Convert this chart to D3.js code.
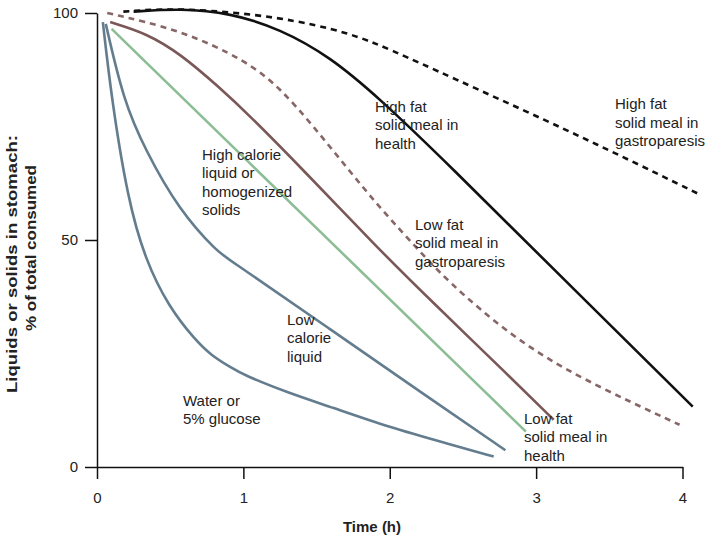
<!DOCTYPE html>
<html>
<head>
<meta charset="utf-8">
<script src="https://cdn.jsdelivr.net/npm/d3@7"></script>
<style>
  body { margin: 0; background: #fff; }
  svg { display: block; font-family: "Liberation Sans", Arial, Helvetica, sans-serif; }
</style>
</head>
<body>
<svg width="710" height="536"></svg>
<script>
// emptying curves, [time (h), % remaining]
const water = [[0.04, 98], [0.1, 81], [0.21, 59], [0.33, 45.6], [0.49, 35.3], [0.67, 28], [0.78, 24.6],
  [0.91, 22], [1.0, 20.3], [1.3, 16.4], [1.6, 13.2], [2.0, 8.7], [2.4, 5.1], [2.71, 2.3]];
const lowCalorie = [[0.06, 97.6], [0.18, 80.8], [0.33, 69.8], [0.56, 56.6], [0.83, 47.1],
  [0.91, 45.6], [1.6, 30.2], [2.27, 15.2], [2.79, 3.7]];
const highCalorie = [[0.1, 96.5], [1.5, 52.6], [2.93, 7.8]];
const lowFatHealth = [[0.09, 98], [0.34, 95.5], [0.57, 91], [0.84, 83.5], [1.03, 77.8], [1.41, 65.4],
  [1.93, 47.8], [2.27, 37], [2.82, 19.9], [3.12, 10.4]];
const lowFatGastro = [[0.07, 100], [0.57, 96.3], [1.02, 89.5], [1.25, 83.5], [1.48, 75], [1.71, 65.8],
  [1.93, 57.2], [2.14, 49.8], [2.39, 41], [2.84, 28.5], [3.3, 19.5], [3.98, 9.3]];
const highFatHealth = [[0.25, 100.3], [0.57, 101], [0.91, 100], [1.25, 96.5], [1.59, 90.4], [1.93, 81.2],
  [2.39, 67], [3.2, 41], [4.07, 13.3]];
const highFatGastro = [[0.18, 100.3], [0.57, 101.2], [1.25, 99.2], [1.73, 95.6], [2.0, 92], [2.41, 86],
  [3.09, 76], [3.55, 69], [4.1, 60.3]];

const xTicks = [0, 1, 2, 3, 4];
const yTicks = [0, 50, 100];

const series = [
  { data: water, color: "#647d8e", dash: null },
  { data: lowCalorie, color: "#647d8e", dash: null },
  { data: highCalorie, color: "#8dbd94", dash: null },
  { data: lowFatHealth, color: "#7b5858", dash: null },
  { data: lowFatGastro, color: "#866666", dash: "6,5" },
  { data: highFatGastro, color: "#111", dash: "6,5" },
  { data: highFatHealth, color: "#111", dash: null }
];

// curve labels, x and first baseline in px
const labels = [
  { lines: ["High fat", "solid meal in", "health"], x: 375, y: 111.5 },
  { lines: ["High fat", "solid meal in", "gastroparesis"], x: 615, y: 109 },
  { lines: ["High calorie", "liquid or", "homogenized", "solids"], x: 202, y: 159.5 },
  { lines: ["Low fat", "solid meal in", "gastroparesis"], x: 415, y: 229.5 },
  { lines: ["Low", "calorie", "liquid"], x: 287, y: 324.5 },
  { lines: ["Water or", "5% glucose"], x: 183, y: 405.5 },
  { lines: ["Low fat", "solid meal in", "health"], x: 524, y: 423.5 }
];

const svg = d3.select("svg");

const x = d3.scaleLinear().domain([0, 4]).range([97, 682.5]);
const y = d3.scaleLinear().domain([0, 100]).range([467, 13]);

const line = d3.line()
  .x(d => x(d[0]))
  .y(d => y(d[1]))
  .curve(d3.curveBasis);

svg.selectAll(".curve")
  .data(series)
  .enter()
  .append("path")
  .attr("class", "curve")
  .attr("d", d => line(d.data))
  .attr("fill", "none")
  .attr("stroke", d => d.color)
  .attr("stroke-width", 2.6)
  .attr("stroke-dasharray", d => d.dash);

// axes
const xAxis = svg.append("g")
  .attr("transform", `translate(0,${y(0)})`)
  .call(d3.axisBottom(x).tickValues(xTicks).tickFormat(d3.format("d"))
    .tickSize(12).tickSizeOuter(0).tickPadding(13));
const yAxis = svg.append("g")
  .attr("transform", `translate(${x(0)},0)`)
  .call(d3.axisLeft(y).tickValues(yTicks).tickFormat(d3.format("d"))
    .tickSize(12).tickSizeOuter(0).tickPadding(7));

[xAxis, yAxis].forEach(g => {
  g.select(".domain").attr("stroke", "#111").attr("stroke-width", 1.5);
  g.selectAll(".tick line").attr("stroke", "#111").attr("stroke-width", 1.5);
  g.selectAll(".tick text")
    .attr("font-size", "15px")
    .attr("font-family", "Liberation Sans, Arial, sans-serif")
    .attr("fill", "#222");
});

// axis titles
svg.append("text")
  .attr("x", 372)
  .attr("y", 532)
  .attr("text-anchor", "middle")
  .attr("font-size", "15px")
  .attr("font-weight", "bold")
  .attr("fill", "#222")
  .text("Time (h)");

svg.append("text")
  .attr("transform", "translate(17,264) rotate(-90)")
  .attr("text-anchor", "middle")
  .attr("font-size", "14px")
  .attr("font-weight", "bold")
  .attr("fill", "#222")
  .attr("textLength", 258)
  .attr("lengthAdjust", "spacingAndGlyphs")
  .text("Liquids or solids in stomach:");

svg.append("text")
  .attr("transform", "translate(36,248) rotate(-90)")
  .attr("text-anchor", "middle")
  .attr("font-size", "14px")
  .attr("font-weight", "bold")
  .attr("fill", "#222")
  .attr("textLength", 166)
  .attr("lengthAdjust", "spacingAndGlyphs")
  .text("% of total consumed");

// curve labels
labels.forEach(l => {
  const t = svg.append("text")
    .attr("x", l.x)
    .attr("y", l.y)
    .attr("font-size", "15px")
    .attr("fill", "#222");
  l.lines.forEach((s, i) => {
    t.append("tspan")
      .attr("x", l.x)
      .attr("dy", i === 0 ? 0 : 18.5)
      .text(s);
  });
});
</script>
</body>
</html>
